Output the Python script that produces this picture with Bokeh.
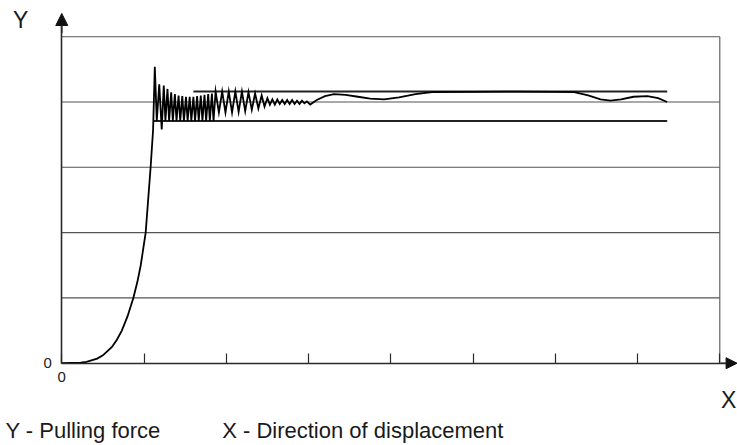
from bokeh.plotting import figure
from bokeh.models import Range1d, FixedTicker, Label, Arrow, NormalHead
from bokeh.embed import file_html
from bokeh.resources import INLINE

# ---- data (x in tick units, y in grid units) ----
curve_x = [0.00, 0.23, 0.30, 0.43, 0.50, 0.61, 0.67, 0.73, 0.80, 0.87, 0.92, 0.96, 1.02, 1.08, 1.11,
           1.131, 1.155, 1.185, 1.215, 1.24, 1.26, 1.285, 1.305, 1.33, 1.35, 1.375, 1.395, 1.42, 1.44,
           1.465, 1.485, 1.51, 1.53, 1.555, 1.575, 1.60, 1.62, 1.645, 1.665, 1.69, 1.71, 1.735, 1.755,
           1.78, 1.80, 1.825, 1.845, 1.87,
           1.91, 1.95, 1.99, 2.03, 2.07, 2.11, 2.15, 2.19, 2.23, 2.27, 2.31, 2.35, 2.39, 2.43, 2.465, 2.50,
           2.53, 2.56, 2.59, 2.62, 2.65, 2.68, 2.71, 2.74, 2.77, 2.80, 2.83, 2.86, 2.89, 2.92, 2.95, 2.98, 3.02,
           3.10, 3.20, 3.31, 3.45, 3.60, 3.75, 3.92, 4.10, 4.30, 4.50, 5.00, 5.50, 6.00, 6.23, 6.40, 6.55,
           6.67, 6.80, 6.95, 7.12, 7.25, 7.36]
curve_y = [0.00, 0.01, 0.02, 0.07, 0.12, 0.25, 0.36, 0.50, 0.72, 1.00, 1.25, 1.50, 2.00, 3.00, 3.57,
           4.54, 3.71, 4.27, 3.58, 4.25, 3.71, 4.20, 3.71, 4.15, 3.71, 4.12, 3.71, 4.10, 3.71,
           4.09, 3.71, 4.08, 3.71, 4.08, 3.71, 4.08, 3.71, 4.09, 3.71, 4.10, 3.71, 4.11, 3.71,
           4.12, 3.71, 4.13, 3.71, 4.16,
           3.84, 4.16, 3.84, 4.16, 3.84, 4.16, 3.85, 4.16, 3.86, 4.15, 3.88, 4.13, 3.90, 4.10, 3.93, 4.06,
           3.96, 4.04, 3.96, 4.04, 3.97, 4.03, 3.97, 4.03, 3.97, 4.03, 3.97, 4.02, 3.97, 4.02, 3.98, 4.01, 3.96,
           4.03, 4.09, 4.12, 4.11, 4.08, 4.05, 4.04, 4.07, 4.12, 4.15, 4.155, 4.16, 4.155, 4.15, 4.10, 4.04,
           4.02, 4.04, 4.08, 4.09, 4.06, 4.00]

upper_limit_x = [1.60, 7.36]
upper_limit = 4.16
lower_limit_x = [1.12, 7.36]
lower_limit = 3.71

grid_levels = [1, 2, 3, 4, 5]
x_ticks = [0, 1, 2, 3, 4, 5, 6, 7, 8]
x_tick_labels = {0: "0"}
y_ticks = [0]
y_tick_labels = {0: "0"}
x_last = 8
y_last = 5
x_arrow_tip = 8.21
y_arrow_tip = 5.355
y_label = "Y"
x_label = "X"
caption_y = "Y - Pulling force"
caption_x = "X - Direction of displacement"

FONT = "Liberation Sans"
INK = "#1a1a1a"
AXIS = "#2a2a2a"

# canvas-filling frame; axes are pinned at the data origin
p = figure(width=737, height=445, output_backend="svg", toolbar_location=None,
           x_range=Range1d(-0.745, 8.215), y_range=Range1d(-1.260, 5.554),
           min_border_left=0, min_border_right=0, min_border_top=0, min_border_bottom=0)
p.outline_line_color = None
p.xgrid.visible = False
p.ygrid.visible = False
p.background_fill_color = "white"
p.border_fill_color = "white"

xa = p.xaxis[0]
xa.fixed_location = 0
xa.bounds = (0, x_arrow_tip - 0.05)
xa.ticker = FixedTicker(ticks=x_ticks)
xa.major_label_overrides = {t: x_tick_labels.get(t, "") for t in x_ticks}
xa.major_tick_in = 10
xa.major_tick_out = 0
xa.minor_tick_line_color = None
xa.axis_line_color = AXIS
xa.axis_line_width = 1.6
xa.major_tick_line_color = AXIS
xa.major_tick_line_width = 1.2
xa.major_label_text_font = FONT
xa.major_label_text_font_size = "15px"
xa.major_label_text_color = INK
xa.major_label_standoff = 9

ya = p.yaxis[0]
ya.fixed_location = 0
ya.bounds = (0, y_arrow_tip - 0.05)
ya.ticker = FixedTicker(ticks=y_ticks)
ya.major_label_overrides = y_tick_labels
ya.major_tick_in = 0
ya.major_tick_out = 0
ya.minor_tick_line_color = None
ya.axis_line_color = AXIS
ya.axis_line_width = 1.6
ya.major_label_text_font = FONT
ya.major_label_text_font_size = "15px"
ya.major_label_text_color = INK
ya.major_label_standoff = 10

# grid lines and right border
p.segment(x0=[0] * len(grid_levels), y0=grid_levels, x1=[x_last] * len(grid_levels), y1=grid_levels,
          line_color="#555555", line_width=1.1)
p.segment(x0=[x_last], y0=[0], x1=[x_last], y1=[y_last], line_color="#555555", line_width=1.1)

# limit band
p.line(upper_limit_x, [upper_limit] * 2, line_color="#222222", line_width=2)
p.line(lower_limit_x, [lower_limit] * 2, line_color="#222222", line_width=2)

# measured curve
p.line(curve_x, curve_y, line_color="black", line_width=1.8, line_join="miter")

# arrow heads
p.add_layout(Arrow(end=NormalHead(size=11, fill_color="#111111", line_color="#111111"),
                   x_start=x_arrow_tip - 0.2, y_start=0, x_end=x_arrow_tip, y_end=0,
                   line_color=AXIS, line_width=1.6))
p.add_layout(Arrow(end=NormalHead(size=12, fill_color="#111111", line_color="#111111"),
                   x_start=0, y_start=y_arrow_tip - 0.3, x_end=0, y_end=y_arrow_tip,
                   line_color=AXIS, line_width=1.6))

# texts
p.add_layout(Label(x=-0.50, y=5.25, text=y_label, text_font=FONT, text_font_size="23px",
                   text_color=INK, text_align="center", text_baseline="middle"))
p.add_layout(Label(x=8.20, y=-0.57, text=x_label, text_font=FONT, text_font_size="23px",
                   text_color=INK, text_align="right", text_baseline="middle"))
p.add_layout(Label(x=-0.685, y=-1.03, text=caption_y, text_font=FONT, text_font_size="22px",
                   text_color=INK, text_baseline="middle"))
p.add_layout(Label(x=1.95, y=-1.03, text=caption_x, text_font=FONT, text_font_size="22px",
                   text_color=INK, text_baseline="middle"))

open("out.html", "w").write(file_html(p, INLINE))
